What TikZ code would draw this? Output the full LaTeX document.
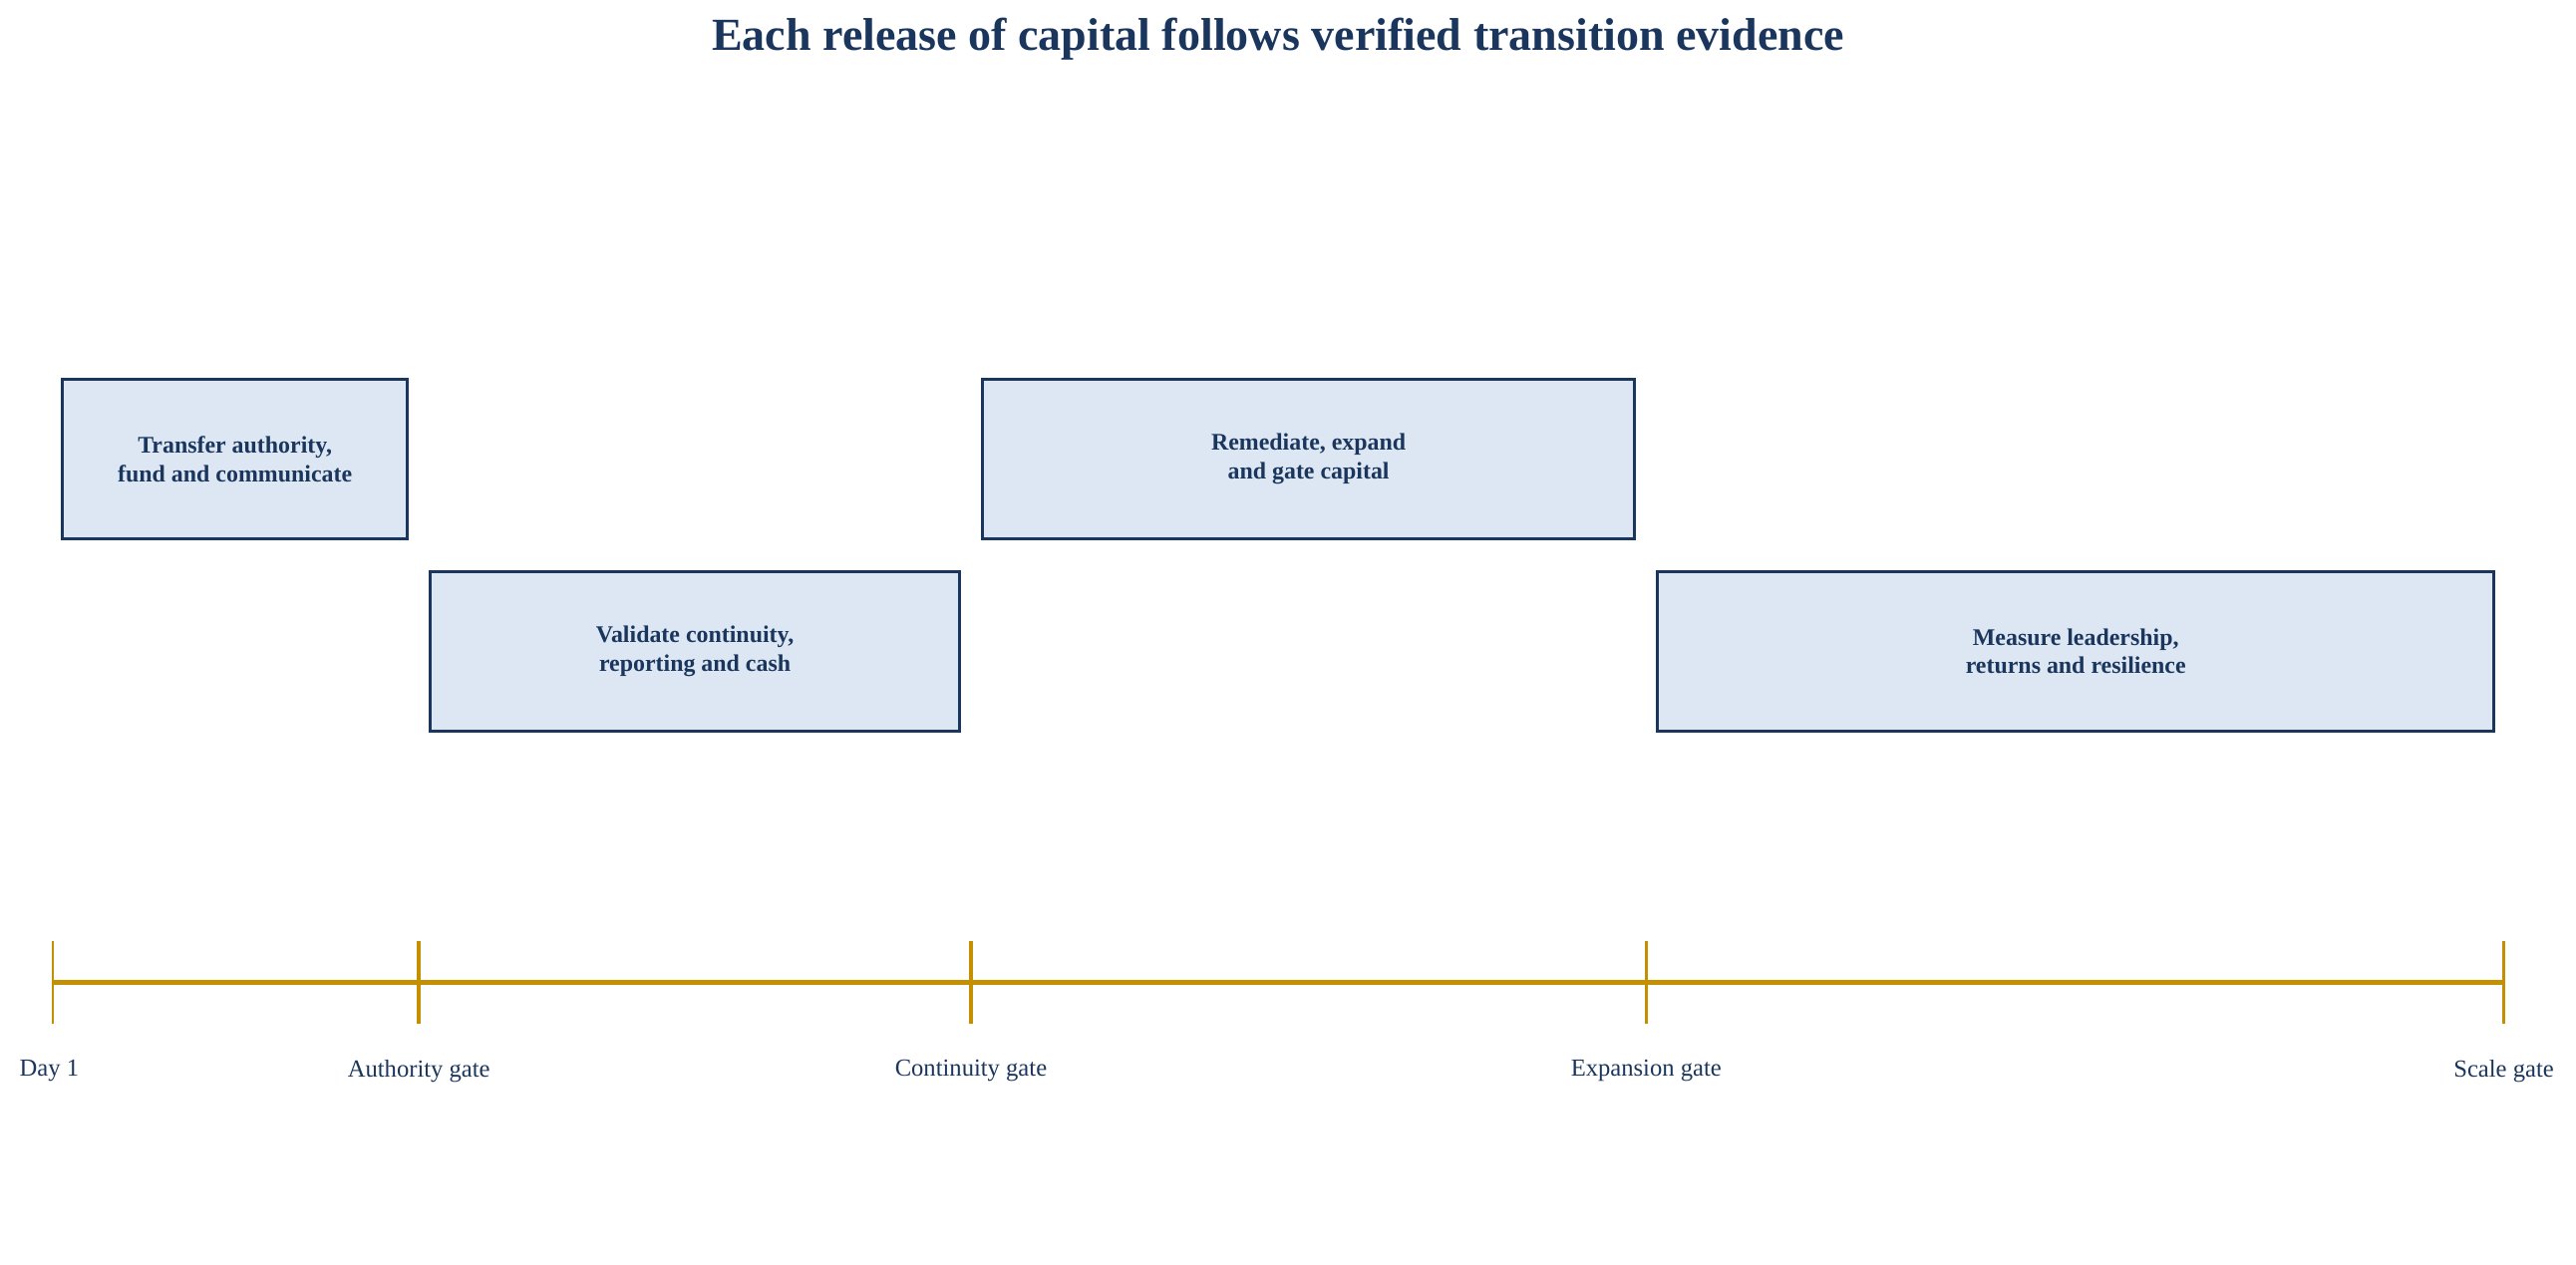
\documentclass[tikz,border=0pt]{standalone}
\usepackage{fontspec}
\setmainfont{Liberation Serif}
\usepackage{xcolor}
\definecolor{navy}{HTML}{1B365D}
\definecolor{boxfill}{HTML}{DDE7F3}
\definecolor{gold}{HTML}{C48F00}
\begin{document}
\begin{tikzpicture}[x=0.01648cm,y=-0.01648cm,
  phase/.style={draw=navy, fill=boxfill, line width=0.8pt, text=navy, font=\fontsize{6.8}{8.2}\selectfont\bfseries, align=center},
  gatelbl/.style={text=navy, font=\fontsize{7}{8.4}\selectfont},
  tick/.style={draw=gold, line width=0.6pt}]
        \useasboundingbox (0,0) rectangle (1568,770);
        % title
        \node[text=navy, font=\fontsize{13.1}{15}\selectfont\bfseries] (title) at (778,24) {Each release of capital follows verified transition evidence};
        % phase boxes
        \draw[phase] (38,231) rectangle (248,328) node[midway] (p1) {Transfer authority,\\fund and communicate};
        \draw[phase] (262,348) rectangle (584,445) node[midway] (p2) {Validate continuity,\\reporting and cash};
        \draw[phase] (598,231) rectangle (995,328) node[midway] (p3) {Remediate, expand\\and gate capital};
        \draw[phase] (1009,348) rectangle (1518,445) node[midway] (p4) {Measure leadership,\\returns and resilience};
        % timeline
        \coordinate (g0) at (32,598);
        \coordinate (g1) at (255,598);
        \coordinate (g2) at (591,598);
        \coordinate (g3) at (1002,598);
        \coordinate (g4) at (1524,598);
        \draw[gold, line width=1.2pt] (g0) -- (g4);
        \foreach \g in {g0,g4}
            \draw[tick] ([yshift=25*0.01648cm]\g) -- ([yshift=-25*0.01648cm]\g);
        \foreach \g in {g1,g2,g3}
            \draw[tick, line width=1pt] ([yshift=25*0.01648cm]\g) -- ([yshift=-25*0.01648cm]\g);
        % gate labels
        \node[gatelbl] (l0) at (30,652) {Day 1};
        \node[gatelbl] (l1) at (255,652) {Authority gate};
        \node[gatelbl] (l2) at (591,652) {Continuity gate};
        \node[gatelbl] (l3) at (1002,652) {Expansion gate};
        \node[gatelbl] (l4) at (1524,652) {Scale gate};
\end{tikzpicture}
\end{document}
